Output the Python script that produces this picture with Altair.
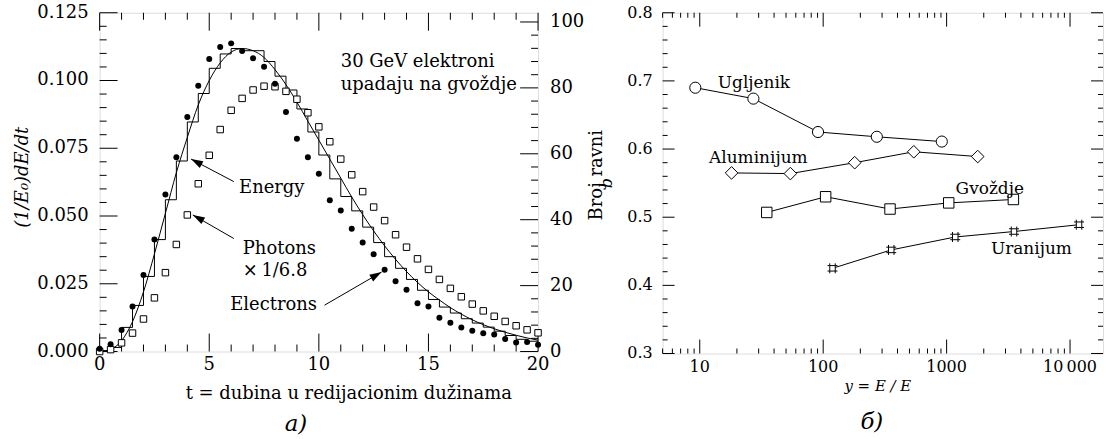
import math
import altair as alt
import pandas as pd

FONT = "DejaVu Serif"

# ---------------- left panel data ----------------
t_grid = [i * 0.5 for i in range(41)]
electrons = [0.0010, 0.0027, 0.0079, 0.0166, 0.0282, 0.0413, 0.0579, 0.0717, 0.0865, 0.0981,
             0.1079, 0.1124, 0.1137, 0.1109, 0.1082, 0.1051, 0.0988, 0.0884, 0.0785, 0.0717,
             0.0656, 0.0558, 0.0520, 0.0453, 0.0402, 0.0359, 0.0302, 0.0259, 0.0228, 0.0178,
             0.0166, 0.0125, 0.0106, 0.0089, 0.0077, 0.0067, 0.0063, 0.0046, 0.0033, 0.0035,
             0.0025]
photons = [0.0000, 0.0007, 0.0032, 0.0068, 0.0120, 0.0198, 0.0291, 0.0395, 0.0504, 0.0619,
           0.0724, 0.0819, 0.0890, 0.0934, 0.0965, 0.0979, 0.0977, 0.0960, 0.0931, 0.0881,
           0.0829, 0.0774, 0.0710, 0.0652, 0.0590, 0.0533, 0.0483, 0.0431, 0.0385, 0.0342,
           0.0303, 0.0266, 0.0233, 0.0202, 0.0175, 0.0150, 0.0130, 0.0111, 0.0095, 0.0080,
           0.0069]
hist_start = [i * 0.5 for i in range(40)] + [20.0]
hist_vals = [0.0003, 0.0015, 0.0089, 0.0170, 0.0277, 0.0413, 0.0560, 0.0703, 0.0847, 0.0952,
             0.1045, 0.1098, 0.1118, 0.1110, 0.1110, 0.1070, 0.1016, 0.0965, 0.0895, 0.0810,
             0.0725, 0.0637, 0.0572, 0.0519, 0.0459, 0.0402, 0.0350, 0.0307, 0.0266, 0.0226,
             0.0192, 0.0164, 0.0142, 0.0121, 0.0105, 0.0090, 0.0075, 0.0059, 0.0045, 0.0038,
             0.0038]
curve_vals = [0.0000, 0.0008, 0.0040, 0.0110, 0.0220, 0.0360, 0.0510, 0.0660, 0.0790, 0.0910,
              0.1000, 0.1065, 0.1105, 0.1118, 0.1110, 0.1085, 0.1040, 0.0985, 0.0920, 0.0850,
              0.0780, 0.0710, 0.0640, 0.0570, 0.0505, 0.0445, 0.0390, 0.0340, 0.0295, 0.0255,
              0.0220, 0.0190, 0.0162, 0.0138, 0.0117, 0.0099, 0.0084, 0.0071, 0.0060, 0.0050,
              0.0042]

left_x_major = [0, 5, 10, 15, 20]
left_x_labels = ["0", "5", "10", "15", "20"]
left_x_minor = [1, 2, 3, 4, 6, 7, 8, 9, 11, 12, 13, 14, 16, 17, 18, 19]
left_y_major = [0, 0.025, 0.05, 0.075, 0.1, 0.125]
left_y_labels = ["0.000", "0.025", "0.050", "0.075", "0.100", "0.125"]
left_y_minor = [0.005, 0.01, 0.015, 0.02, 0.03, 0.035, 0.04, 0.045, 0.055, 0.06, 0.065, 0.07,
                0.08, 0.085, 0.09, 0.095, 0.105, 0.11, 0.115, 0.12]
count_major = [0, 20, 40, 60, 80, 100]
count_labels = ["0", "20", "40", "60", "80", "100"]
count_minor = [4, 8, 12, 16, 24, 28, 32, 36, 44, 48, 52, 56, 64, 68, 72, 76, 84, 88, 92, 96]

notes_text = ["30 GeV elektroni", "upadaju na gvoždje", "Energy", "Photons", "\u00d7\u20091/6.8", "Electrons"]
notes_t = [11.0, 11.0, 6.36, 6.53, 6.53, 5.96]
notes_v = [0.1067, 0.0983, 0.0603, 0.0380, 0.0297, 0.0171]

arrow_t1 = [6.12, 6.12, 10.26]
arrow_v1 = [0.0627, 0.0417, 0.0171]
arrow_t2 = [4.17, 4.25, 12.86]
arrow_v2 = [0.0710, 0.0504, 0.0293]
arrow_angle = [298, 299, 60]

# ---------------- right panel data ----------------
ug_x = [9.2, 27.2, 90.8, 272, 914]
ug_y = [0.690, 0.674, 0.625, 0.618, 0.611]
al_x = [18.1, 54.2, 180, 542, 1786]
al_y = [0.565, 0.564, 0.580, 0.596, 0.589]
fe_x = [34.9, 104.7, 348, 1040, 3475]
fe_y = [0.507, 0.530, 0.512, 0.521, 0.526]
u_x = [119, 356, 1175, 3516, 11830]
u_y = [0.425, 0.452, 0.471, 0.479, 0.489]

mat_names = ["Ugljenik", "Aluminijum", "Gvoždje", "Uranijum"]
mat_label_x = [14.0, 11.9, 1183, 2285]
mat_label_y = [0.6975, 0.587, 0.541, 0.454]

right_x_major = [10, 100, 1000, 10000]
right_x_labels = ["10", "100", "1000", "10\u2009000"]
right_x_minor = [m * 10 ** k for k in range(0, 4) for m in range(2, 10)
                 if 5 <= m * 10 ** k <= 18500 and m * 10 ** k not in (10, 100, 1000, 10000)]
right_y_major = [0.3, 0.4, 0.5, 0.6, 0.7, 0.8]
right_y_labels = ["0.3", "0.4", "0.5", "0.6", "0.7", "0.8"]
right_y_minor = [0.32, 0.34, 0.36, 0.38, 0.42, 0.44, 0.46, 0.48, 0.52, 0.54, 0.56, 0.58,
                 0.62, 0.64, 0.66, 0.68, 0.72, 0.74, 0.76, 0.78]

W1, H1 = 440, 340
W2, H2 = 442, 342

# ================= scales =================
XD1, YD1, CD1 = [0, 20], [0, 0.125], [0, 102.8]
XD2, YD2 = [5, 18500], [0.3, 0.8]
xs = alt.Scale(domain=XD1, nice=False, zero=False)
ys = alt.Scale(domain=YD1, nice=False)
cs = alt.Scale(domain=CD1, nice=False)
xs2 = alt.Scale(type="log", domain=XD2, nice=False)
ys2 = alt.Scale(domain=YD2, nice=False)


def enc(scale):
    def f(field, ch):
        cls = alt.X if ch == "x" else alt.Y
        return cls(field, type="quantitative", scale=scale, axis=None)
    return f


X1, Y1, YC = enc(xs), enc(ys), enc(cs)
X2, Y2 = enc(xs2), enc(ys2)


def text_const(txt, x, y, size, style="normal", angle=0, align="center", baseline="middle"):
    return alt.Chart(pd.DataFrame({"s": [txt]})).mark_text(
        font=FONT, fontSize=size, fontStyle=style, angle=angle, align=align, baseline=baseline,
        color="black").encode(x=alt.value(x), y=alt.value(y), text="s:N")


# ---- tick segments in data units (left panel) ----
sy1 = lambda px: (YD1[1] - YD1[0]) * px / H1
sx1 = lambda px: (XD1[1] - XD1[0]) * px / W1
c2v = (YD1[1] - YD1[0]) / (CD1[1] - CD1[0])

left_segs = []
for vals, ln in ((left_x_major, 18), (left_x_minor, 7)):
    for v in vals:
        left_segs.append((v, YD1[0], v, YD1[0] + sy1(ln)))
        left_segs.append((v, YD1[1], v, YD1[1] - sy1(ln)))
for vals, ln in ((left_y_major, 18), (left_y_minor, 7)):
    for v in vals:
        left_segs.append((XD1[0], v, XD1[0] + sx1(ln), v))
for vals, ln in ((count_major, 18), (count_minor, 7)):
    for n in vals:
        left_segs.append((XD1[1], n * c2v, XD1[1] - sx1(ln), n * c2v))

# ================= LEFT PANEL =================
df_pts = pd.DataFrame({"t": t_grid, "el": electrons, "ph": photons, "cv": curve_vals})
df_hist = pd.DataFrame({"t": hist_start, "v": hist_vals})

hist = alt.Chart(df_hist).mark_line(interpolate="step-after", color="black", strokeWidth=1).encode(
    x=X1("t", "x"), y=Y1("v", "y"))
curve = alt.Chart(df_pts).mark_line(interpolate="monotone", color="black", strokeWidth=1).encode(
    x=X1("t", "x"), y=Y1("cv", "y"))
phot = alt.Chart(df_pts).mark_point(shape="square", size=42, filled=True, fill="white",
                                    stroke="black", strokeWidth=1, opacity=1).encode(
    x=X1("t", "x"), y=Y1("ph", "y"))
elec = alt.Chart(df_pts).mark_circle(size=36, color="black", opacity=1).encode(
    x=X1("t", "x"), y=Y1("el", "y"))

df_notes = pd.DataFrame({"txt": notes_text, "t": notes_t, "v": notes_v})
notes = alt.Chart(df_notes).mark_text(align="left", baseline="middle", font=FONT, fontSize=18,
                                      color="black").encode(
    x=X1("t", "x"), y=Y1("v", "y"), text="txt:N")

seg_rows = [{"t1": a, "v1": b, "t2": c, "v2": d} for a, b, c, d in
            zip(arrow_t1, arrow_v1, arrow_t2, arrow_v2)]
seg_rows += [{"t1": a, "v1": b, "t2": c, "v2": d} for a, b, c, d in left_segs]
df_segs = pd.DataFrame(seg_rows)
segments = alt.Chart(df_segs).mark_rule(color="black", strokeWidth=1).encode(
    x=X1("t1", "x"), y=Y1("v1", "y"), x2="t2:Q", y2="v2:Q")

df_arrows = pd.DataFrame({"t2": arrow_t2, "v2": arrow_v2, "ang": arrow_angle})
arrow_heads = alt.Chart(df_arrows).mark_point(shape="M0,0L0.32,1L-0.32,1Z", size=576, filled=True,
                                              color="black", opacity=1).encode(
    x=X1("t2", "x"), y=Y1("v2", "y"), angle=alt.Angle("ang:Q", scale=None))

lx_lab = alt.Chart(pd.DataFrame({"p": left_x_major, "s": left_x_labels})).mark_text(
    font=FONT, fontSize=18, baseline="top", align="center", color="black").encode(
    x=X1("p", "x"), y=alt.value(H1 + 5), text="s:N")
ly_lab = alt.Chart(pd.DataFrame({"p": left_y_major, "s": left_y_labels})).mark_text(
    font=FONT, fontSize=18, baseline="middle", align="right", color="black").encode(
    y=Y1("p", "y"), x=alt.value(-11), text="s:N")

left_main = alt.layer(
    hist, curve, segments, phot, elec, arrow_heads, notes, lx_lab, ly_lab,
    text_const("t = dubina u redijacionim dužinama", 250, H1 + 43, 18),
    text_const("(1/E\u2080)dE/dt", -77, 165, 18, style="italic", angle=270),
    text_const("a)", 197, 413, 23, style="italic"),
)

cy_lab = alt.Chart(pd.DataFrame({"p": count_major, "s": count_labels})).mark_text(
    font=FONT, fontSize=18, baseline="middle", align="left", color="black").encode(
    y=YC("p", "y"), x=alt.value(W1 + 12), text="s:N")

left_right = alt.layer(
    cy_lab,
    text_const("Broj ravni", W1 + 59, 163, 18, angle=270),
    text_const("b", W1 + 69, 171, 16, style="italic", angle=270),
)

left = alt.layer(left_main, left_right).resolve_scale(y="independent").properties(
    width=W1, height=H1)

# ================= RIGHT PANEL =================
sy2 = lambda px: (YD2[1] - YD2[0]) * px / H2
ppd = W2 / math.log10(XD2[1] / XD2[0])
fx = lambda px: 10 ** (px / ppd)

right_segs = []
for vals, ln in ((right_x_major, 14), (right_x_minor, 5)):
    for v in vals:
        right_segs.append((v, YD2[0], v, YD2[0] + sy2(ln)))
        right_segs.append((v, YD2[1], v, YD2[1] - sy2(ln)))
for vals, ln in ((right_y_major, 12), (right_y_minor, 5)):
    for v in vals:
        right_segs.append((XD2[0], v, XD2[0] * fx(ln), v))
        right_segs.append((XD2[1], v, XD2[1] / fx(ln), v))

line_rows = []
for m, xv, yv in (("Ugljenik", ug_x, ug_y), ("Aluminijum", al_x, al_y),
                  ("Gvoždje", fe_x, fe_y), ("Uranijum", u_x, u_y)):
    for i, (a, b) in enumerate(zip(xv, yv)):
        line_rows.append({"mat": m, "o": i, "x": a, "y": b})
for k, (a, b, c, d) in enumerate(right_segs):
    line_rows.append({"mat": "tick%d" % k, "o": 0, "x": a, "y": b})
    line_rows.append({"mat": "tick%d" % k, "o": 1, "x": c, "y": d})
df_lines = pd.DataFrame(line_rows)

r_lines = alt.Chart(df_lines).mark_line(color="black", strokeWidth=1).encode(
    x=X2("x", "x"), y=Y2("y", "y"), detail="mat:N", order="o:Q")

df_r = pd.DataFrame({
    "mat": ["Ugljenik"] * 5 + ["Aluminijum"] * 5 + ["Gvoždje"] * 5 + ["Uranijum"] * 5,
    "x": ug_x + al_x + fe_x + u_x,
    "y": ug_y + al_y + fe_y + u_y,
})

shape_map = {
    "Ugljenik": ("circle", 125),
    "Aluminijum": ("diamond", 160),
    "Gvoždje": ("square", 110),
    "Uranijum": ("M-0.55,-0.55L0.55,-0.55L0.55,0.55L-0.55,0.55Z"
                 "M-1,-0.55L-0.55,-0.55M0.55,-0.55L1,-0.55M-1,0.55L-0.55,0.55M0.55,0.55L1,0.55"
                 "M-0.55,-1L-0.55,-0.55M-0.55,0.55L-0.55,1M0.55,-1L0.55,-0.55M0.55,0.55L0.55,1", 100),
}
r_points = []
for m in mat_names:
    shp, sz = shape_map[m]
    r_points.append(
        alt.Chart(df_r[df_r["mat"] == m]).mark_point(shape=shp, size=sz, filled=True, fill="white",
                                                     stroke="black", strokeWidth=1, opacity=1).encode(
            x=X2("x", "x"), y=Y2("y", "y")))

df_lab = pd.DataFrame({"txt": mat_names, "x": mat_label_x, "y": mat_label_y})
r_labels = alt.Chart(df_lab).mark_text(align="left", baseline="middle", font=FONT, fontSize=17,
                                       color="black").encode(
    x=X2("x", "x"), y=Y2("y", "y"), text="txt:N")

rx_lab = alt.Chart(pd.DataFrame({"p": right_x_major, "s": right_x_labels})).mark_text(
    font=FONT, fontSize=16, baseline="top", align="center", color="black").encode(
    x=X2("p", "x"), y=alt.value(H2 + 6), text="s:N")
ry_lab = alt.Chart(pd.DataFrame({"p": right_y_major, "s": right_y_labels})).mark_text(
    font=FONT, fontSize=16, baseline="middle", align="right", color="black").encode(
    y=Y2("p", "y"), x=alt.value(-10), text="s:N")

right = alt.layer(
    r_lines, *r_points, r_labels, rx_lab, ry_lab,
    text_const("y = E / E", 216, H2 + 33, 15, style="italic"),
    text_const("\u0431)", 210, 411, 23, style="italic"),
).properties(width=W2, height=H2)

chart = alt.hconcat(left, right, spacing=11).properties(
    padding={"left": 13, "top": 2, "right": 0, "bottom": 0}
).configure_view(stroke="black", strokeWidth=1).configure(font=FONT)

chart.save("out.html", embed_options={"renderer": "svg", "actions": False})
